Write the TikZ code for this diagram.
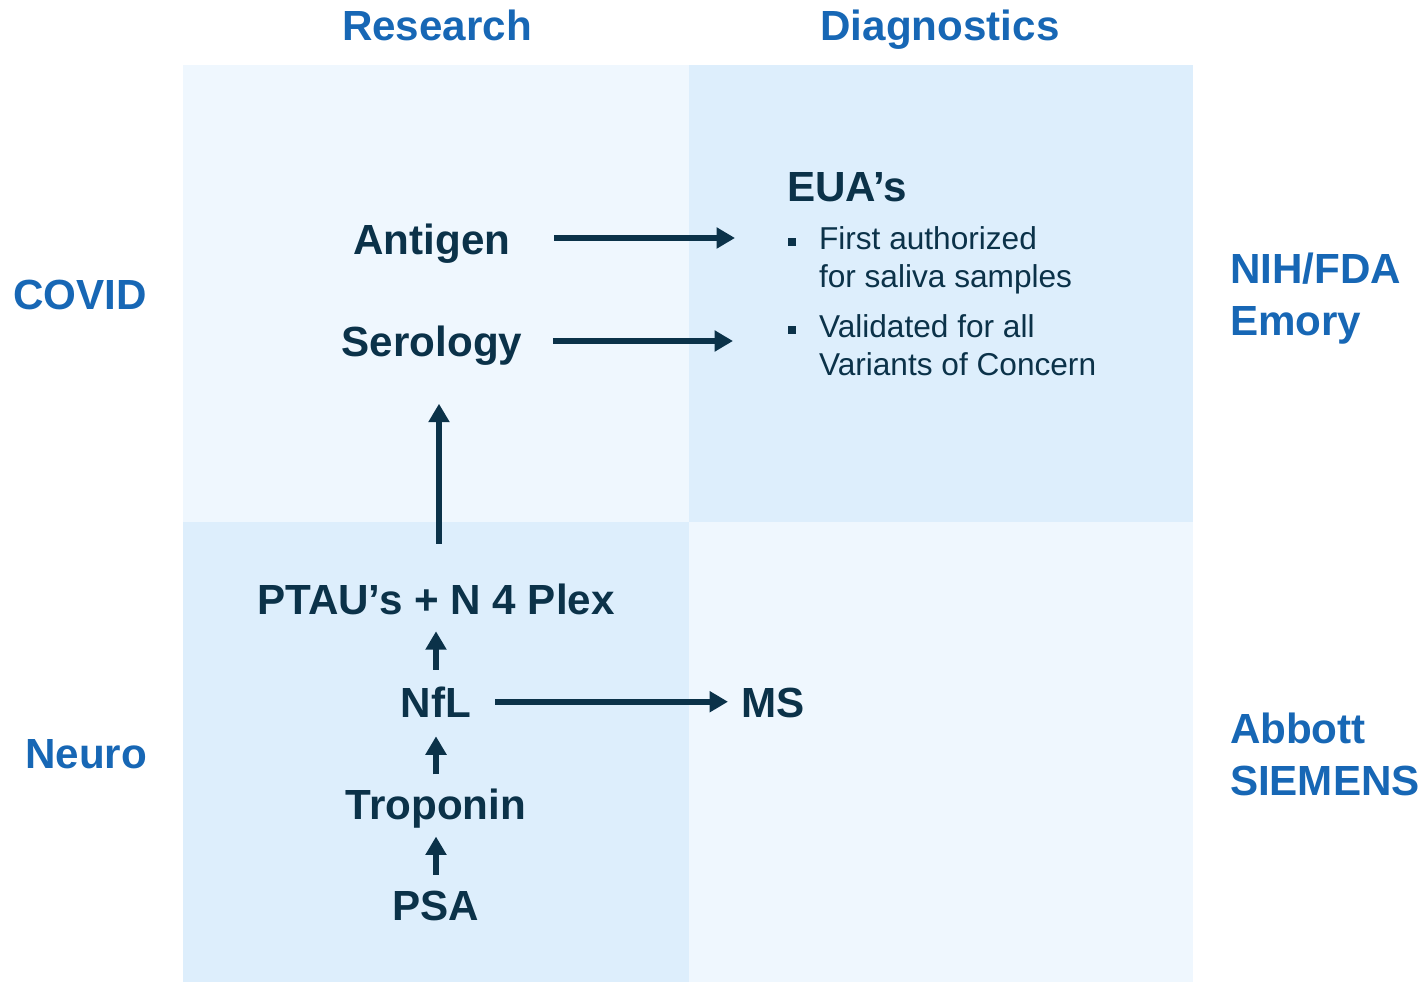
\documentclass[tikz,border=0pt]{standalone}
\usepackage{fontspec}
\setmainfont{Liberation Sans}
\usepackage{xcolor}
\usetikzlibrary{arrows.meta,positioning}
\definecolor{navy}{HTML}{0B3249}
\definecolor{headblue}{HTML}{1767B5}
\definecolor{paleblue}{HTML}{EFF7FE}
\definecolor{softblue}{HTML}{DDEEFC}

\begin{document}
\begin{tikzpicture}[
	x=0.02cm, y=-0.02cm,
	every node/.style = {inner sep=0pt, outer sep=0pt, text=navy},
	heading/.style = {font=\fontsize{24}{28}\selectfont\bfseries, text=headblue, anchor=base},
	item/.style = {font=\fontsize{24}{28}\selectfont\bfseries, anchor=base},
	note/.style = {font=\fontsize{18}{21}\selectfont, anchor=base west},
	bulletsq/.style = {fill=navy, minimum size=4pt},
	flow/.style = {-{Triangle[length=10.5pt,width=11.5pt]}, line width=3.4pt, draw=navy}
]
\useasboundingbox (0,0) rectangle (1422,982);
% quadrants
\fill[paleblue] (183,65) rectangle (689,522);
\fill[softblue] (689,65) rectangle (1193,522);
\fill[softblue] (183,522) rectangle (689,982);
\fill[paleblue] (689,522) rectangle (1193,982);

\node[heading] (research) at (437,41) {Research};
\node[heading] (diagnostics) at (940,41) {Diagnostics};
\node[heading, anchor=base east] (covid) at (147,310) {COVID};
\node[heading, anchor=base east] (neuro) at (147,768) {Neuro};
\node[heading, anchor=base west] (nih) at (1230,284) {NIH/FDA};
\node[heading, anchor=base west] (emory) at (1230,336) {Emory};
\node[heading, anchor=base west] (abbott) at (1230,743) {Abbott};
\node[heading, anchor=base west] (siemens) at (1230,795) {SIEMENS};

\node[item] (antigen) at (432,255) {Antigen};
\node[item] (serology) at (432,357) {Serology};
\node[item] (ptau) at (436,614) {PTAU’s + N 4 Plex};
\node[item] (nfl) at (436,717) {NfL};
\node[item] (troponin) at (436,819) {Troponin};
\node[item] (psa) at (436,920) {PSA};
\node[item, anchor=base west] (ms) at (741,717) {MS};

\node[item, anchor=base west] (eua) at (787,202) {EUA’s};
\node[bulletsq] (b1) at (792,242) {};
\node[note] (first) at (819,250) {First authorized};
\node[note] (saliva) at (819,288) {for saliva samples};
\node[bulletsq] (b2) at (792,330) {};
\node[note] (validated) at (819,338) {Validated for all};
\node[note] (variants) at (819,376) {Variants of Concern};

\coordinate (antigen to) at (735,238);
\coordinate (serology to) at (733,341);
\draw[flow, shorten <=25pt] (antigen.east |- antigen to) -- (antigen to);
\draw[flow, shorten <=17.5pt] (serology.east |- serology to) -- (serology to);
\draw[flow, shorten <=13.6pt, shorten >=7.4pt] (nfl.east) -- (nfl.east -| ms.west);

\draw[flow, shorten <=9pt, shorten >=5pt] (psa) -- (troponin);
\draw[flow, shorten <=8pt, shorten >=11pt] (troponin) -- (nfl);
\draw[flow, shorten <=9.6pt, shorten >=9.6pt] (nfl) -- (ptau);
\draw[flow, shorten <=22.7pt, shorten >=21.5pt]
	([xshift=1.7pt]ptau.north) -- ([xshift=1.7pt]ptau.north |- serology.south);
\end{tikzpicture}
\end{document}
